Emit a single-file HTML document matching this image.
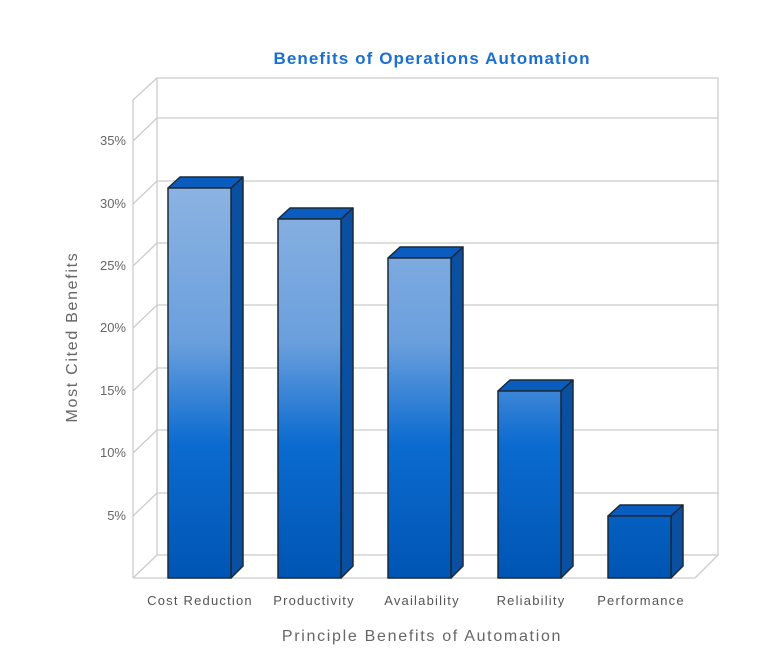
<!DOCTYPE html>
<html><head><style>body{margin:0;background:#fff;}svg{display:block;font-family:"Liberation Sans",sans-serif;}</style></head>
<body>
<svg width="759" height="660" viewBox="0 0 759 660">
<defs>
<linearGradient id="g" gradientUnits="userSpaceOnUse" x1="0" y1="185" x2="0" y2="578">
<stop offset="0" stop-color="#8cb3e2"/>
<stop offset="0.4" stop-color="#6a9fdd"/>
<stop offset="0.66" stop-color="#0b6bd0"/>
<stop offset="1" stop-color="#0055b3"/>
</linearGradient>
</defs>
<rect x="0" y="0" width="759" height="660" fill="#fff"/>
<text x="432" y="64" text-anchor="middle" font-size="17" font-weight="bold" fill="#1a6fd0" letter-spacing="1.1">Benefits of Operations Automation</text>
<g stroke="#cccccc" stroke-width="1.3" fill="none">
<rect x="157" y="78" width="561" height="477"/>
<line x1="133" y1="100" x2="133" y2="578"/>
<line x1="133" y1="100" x2="157" y2="78"/>
<line x1="133" y1="578" x2="695" y2="578"/>
<line x1="695" y1="578" x2="718" y2="555"/>
<line x1="133" y1="578" x2="157" y2="555"/>
<g>
<line x1="157" y1="118" x2="718" y2="118"/><line x1="133" y1="141" x2="157" y2="118"/>
<line x1="157" y1="181" x2="718" y2="181"/><line x1="133" y1="204" x2="157" y2="181"/>
<line x1="157" y1="243" x2="718" y2="243"/><line x1="133" y1="266" x2="157" y2="243"/>
<line x1="157" y1="305" x2="718" y2="305"/><line x1="133" y1="328" x2="157" y2="305"/>
<line x1="157" y1="368" x2="718" y2="368"/><line x1="133" y1="391" x2="157" y2="368"/>
<line x1="157" y1="430" x2="718" y2="430"/><line x1="133" y1="453" x2="157" y2="430"/>
<line x1="157" y1="493" x2="718" y2="493"/><line x1="133" y1="516" x2="157" y2="493"/>
</g>
</g>
<g font-size="13" fill="#666" text-anchor="end">
<text x="126" y="145">35%</text><text x="126" y="208">30%</text><text x="126" y="270">25%</text>
<text x="126" y="332">20%</text><text x="126" y="395">15%</text><text x="126" y="457">10%</text>
<text x="126" y="520">5%</text>
</g>
<g stroke="#1a2a3a" stroke-width="1.5" stroke-linejoin="round">
<g><polygon points="231,188 243,177 243,566 231,578" fill="#0a4fa0"/><polygon points="168,188 180,177 243,177 231,188" fill="#0a5cbf"/><rect x="168" y="188" width="63" height="390" fill="url(#g)"/></g>
<g><polygon points="341,219 353,208 353,566 341,578" fill="#0a4fa0"/><polygon points="278,219 290,208 353,208 341,219" fill="#0a5cbf"/><rect x="278" y="219" width="63" height="359" fill="url(#g)"/></g>
<g><polygon points="451,258 463,247 463,566 451,578" fill="#0a4fa0"/><polygon points="388,258 400,247 463,247 451,258" fill="#0a5cbf"/><rect x="388" y="258" width="63" height="320" fill="url(#g)"/></g>
<g><polygon points="561,391 573,380 573,566 561,578" fill="#0a4fa0"/><polygon points="498,391 510,380 573,380 561,391" fill="#0a5cbf"/><rect x="498" y="391" width="63" height="187" fill="url(#g)"/></g>
<g><polygon points="671,516 683,505 683,566 671,578" fill="#0a4fa0"/><polygon points="608,516 620,505 683,505 671,516" fill="#0a5cbf"/><rect x="608" y="516" width="63" height="62" fill="url(#g)"/></g>
</g>
<g font-size="13" fill="#555" text-anchor="middle" letter-spacing="1.2">
<text x="200" y="605">Cost Reduction</text><text x="314" y="605">Productivity</text>
<text x="422" y="605">Availability</text><text x="531" y="605">Reliability</text><text x="641" y="605">Performance</text>
</g>
<text x="422" y="641" text-anchor="middle" font-size="16" fill="#666" letter-spacing="1.7">Principle Benefits of Automation</text>
<text transform="translate(77,337) rotate(-90)" text-anchor="middle" font-size="16" fill="#666" letter-spacing="1.7">Most Cited Benefits</text>
</svg>
</body></html>
